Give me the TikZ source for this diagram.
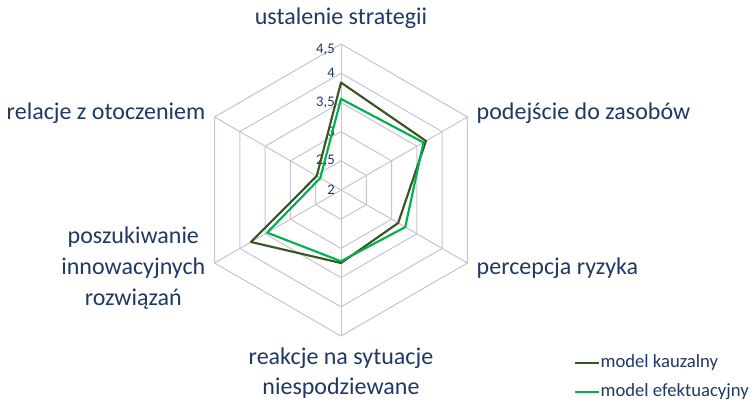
\documentclass[tikz,border=0pt]{standalone}
\usepackage{fontspec}
\setmainfont{Carlito}
\usepackage{tikz}
\usetikzlibrary{positioning}

\definecolor{labelblue}{RGB}{31,56,100}
\definecolor{gridgray}{RGB}{196,196,210}
\definecolor{kauzal}{RGB}{55,86,35}
\definecolor{efekt}{RGB}{0,176,80}

\begin{document}
\begin{tikzpicture}[x=0.75pt,y=0.75pt,
    gridline/.style={draw=gridgray,line width=0.75pt},
    axislabel/.style={text=labelblue,font=\fontsize{18}{22}\selectfont},
    ticklabel/.style={text=labelblue,font=\fontsize{11}{13}\selectfont,anchor=east,inner sep=0pt},
    legendtext/.style={text=labelblue,font=\fontsize{14}{17}\selectfont,anchor=west,inner sep=1pt}]
\useasboundingbox (-341,-215) rectangle (412,190);
%the hexagonal grid
    \foreach \r in {1,...,5}
       \draw[gridline] (90:\r*29.2) -- (30:\r*29.2) -- (-30:\r*29.2)
          -- (-90:\r*29.2) -- (-150:\r*29.2) -- (150:\r*29.2) -- cycle;
    %the spokes
    \foreach \a in {90,30,-30,-90,-150,150}
       \draw[gridline] (0,0) -- (\a:146);
    %values on the axis
    \node[ticklabel] (t2) at (-6,0) {2};
    \node[ticklabel] (t25) at (-6,29.2) {2,5};
    \node[ticklabel] (t3) at (-6,58.4) {3};
    \node[ticklabel] (t35) at (-6,87.6) {3,5};
    \node[ticklabel] (t4) at (-6,116.8) {4};
    \node[ticklabel] (t45) at (-6,140) {4,5};

%the data
    %model kauzalny
    \coordinate (k1) at (90:{(3.84-2)*58.4});
    \coordinate (k2) at (30:{(3.68-2)*58.4});
    \coordinate (k3) at (-30:{(3.13-2)*58.4});
    \coordinate (k4) at (-90:{(3.25-2)*58.4});
    \coordinate (k5) at (-150:{(3.78-2)*58.4});
    \coordinate (k6) at (150:{(2.48-2)*58.4});
    %model efektuacyjny
    \coordinate (e1) at (90:{(3.56-2)*58.4});
    \coordinate (e2) at (30:{(3.63-2)*58.4});
    \coordinate (e3) at (-30:{(3.27-2)*58.4});
    \coordinate (e4) at (-90:{(3.22-2)*58.4});
    \coordinate (e5) at (-150:{(3.46-2)*58.4});
    \coordinate (e6) at (150:{(2.41-2)*58.4});
    \draw[kauzal,line width=1.6pt,line join=round] (k1) -- (k2) -- (k3) -- (k4) -- (k5) -- (k6) -- cycle;
    \draw[efekt,line width=1.6pt,line join=round] (e1) -- (e2) -- (e3) -- (e4) -- (e5) -- (e6) -- cycle;

%the axis names
    \node[axislabel] (strat) at (0,172) {ustalenie strategii};
    \node[axislabel,anchor=west] (zasoby) at (131,77) {podejście do zasobów};
    \node[axislabel,anchor=west] (ryzyko) at (131,-78) {percepcja ryzyka};
    \node[axislabel,align=center] (reakcje) at (0,-183) {reakcje na sytuacje\\[1pt]niespodziewane};
    \node[axislabel,align=center,anchor=east] (innow) at (-131,-78) {poszukiwanie\\[1pt]innowacyjnych\\[1pt]rozwiązań};
    \node[axislabel,anchor=east] (otocz) at (-131,77) {relacje z otoczeniem};

%the legend
    \coordinate (l1a) at (234,-173);
    \coordinate (l1b) at (258,-173);
    \coordinate (l2a) at (234,-202);
    \coordinate (l2b) at (258,-202);
    \draw[kauzal,line width=1.6pt] (l1a) -- (l1b);
    \draw[efekt,line width=1.6pt] (l2a) -- (l2b);
    \node[legendtext] (leg1) at (l1b) {model kauzalny};
    \node[legendtext] (leg2) at (l2b) {model efektuacyjny};
\end{tikzpicture}
\end{document}
